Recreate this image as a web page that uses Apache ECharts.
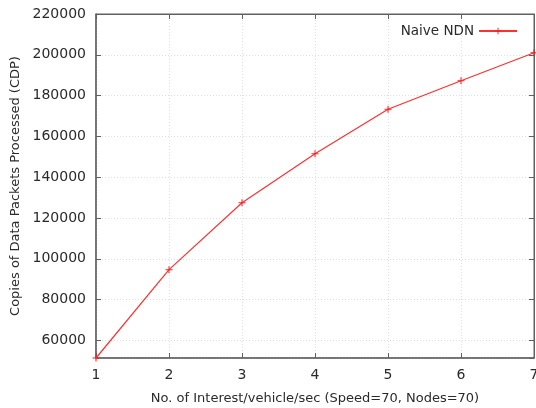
<!DOCTYPE html>
<html>
<head>
<meta charset="utf-8">
<script src="https://cdn.jsdelivr.net/npm/echarts@6/dist/echarts.min.js"></script>
<style>html,body{margin:0;padding:0;background:#fff;overflow:hidden}#c{width:536px;height:408px}</style>
</head>
<body>
<div id="c"></div>
<script>
var rates = [1, 2, 3, 4, 5, 6, 7];
var naiveNDN = [51400, 94700, 127500, 151500, 173300, 187300, 201000];
var seriesName = 'Naive NDN';
var xTitle = 'No. of Interest/vehicle/sec (Speed=70, Nodes=70)';
var yTitle = 'Copies of Data Packets Processed (CDP)';

var chart = echarts.init(document.getElementById('c'), null, {renderer: 'canvas', width: 536, height: 408});
var font = 'DejaVu Sans';
var txt = '#2a2a2a';
var axisColor = '#606060';
var grid = {color: '#e0e0e0', type: [1, 2], width: 1};
var plus = 'path://M-0.6,-4h1.2v3.4h3.4v1.2h-3.4v3.4h-1.2v-3.4h-3.4v-1.2h3.4z';
var plain = function (v) { return String(v); };

chart.setOption({
  animation: false,
  grid: {left: 96, right: 2, top: 14, bottom: 50, show: true, borderColor: axisColor, borderWidth: 1,
         containLabel: false, outerBoundsMode: 'none'},
  legend: {
    right: 13, top: 19, itemWidth: 38, itemHeight: 8, align: 'right', itemGap: 6,
    textStyle: {fontFamily: font, fontSize: 13.5, color: txt},
    data: [{name: seriesName}]
  },
  xAxis: [{
    type: 'value', min: 1, max: 7, interval: 1,
    name: xTitle, nameLocation: 'middle', nameGap: 34,
    nameTextStyle: {fontFamily: font, fontSize: 13, color: txt},
    axisLine: {show: true, onZero: false, lineStyle: {color: axisColor, width: 1.5}},
    axisTick: {show: true, inside: true, length: 5, lineStyle: {color: axisColor}},
    axisLabel: {fontFamily: font, fontSize: 14, color: txt, margin: 10, formatter: plain},
    splitLine: {show: true, lineStyle: grid}
  }, {
    type: 'value', min: 1, max: 7, interval: 1, position: 'top',
    axisLine: {show: true, onZero: false, lineStyle: {color: axisColor, width: 1}},
    axisTick: {show: true, inside: true, length: 5, lineStyle: {color: axisColor}},
    axisLabel: {show: false}, splitLine: {show: false}
  }],
  yAxis: [{
    type: 'value', min: 51400, max: 220000, splitNumber: 8,
    name: yTitle, nameLocation: 'middle', nameGap: 72,
    nameTextStyle: {fontFamily: font, fontSize: 13, color: txt},
    axisLine: {show: true, onZero: false, lineStyle: {color: axisColor, width: 1.5}},
    axisTick: {show: true, inside: true, length: 5, lineStyle: {color: axisColor}},
    axisLabel: {fontFamily: font, fontSize: 14, color: txt, margin: 10, showMinLabel: false, formatter: plain},
    splitLine: {show: true, lineStyle: grid}
  }, {
    type: 'value', min: 51400, max: 220000, splitNumber: 8, position: 'right',
    axisLine: {show: true, onZero: false, lineStyle: {color: axisColor, width: 1}},
    axisTick: {show: true, inside: true, length: 5, lineStyle: {color: axisColor}},
    axisLabel: {show: false}, splitLine: {show: false}
  }],
  series: [{
    name: seriesName, type: 'line',
    data: rates.map(function (x, i) { return [x, naiveNDN[i]]; }),
    symbol: plus, symbolSize: 7, showSymbol: true,
    lineStyle: {color: '#ff3030', width: 1.2},
    itemStyle: {color: '#ff2020'},
    clip: false
  }]
});
</script>
</body>
</html>
